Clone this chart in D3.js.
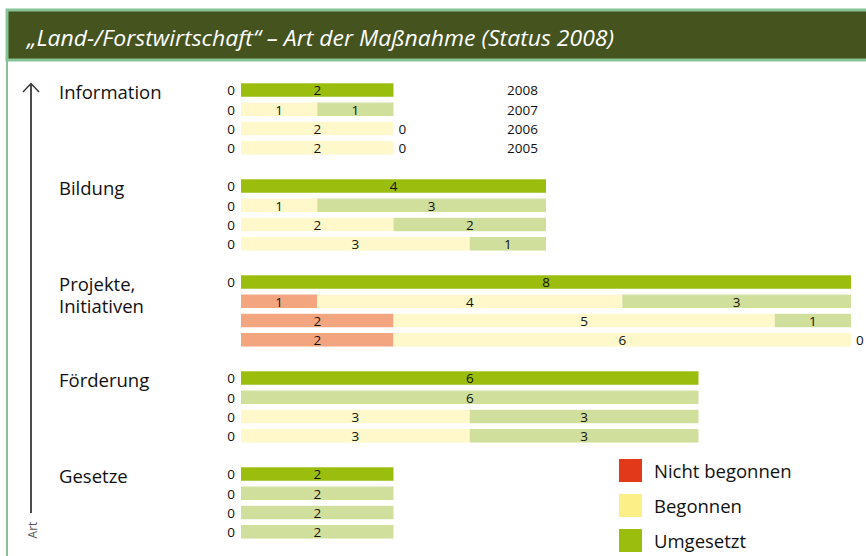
<!DOCTYPE html>
<html>
<head>
<meta charset="utf-8">
<script src="https://cdn.jsdelivr.net/npm/d3@7/dist/d3.min.js"></script>
<style>
  html, body { margin: 0; padding: 0; background: #ffffff; }
  svg { display: block; }
</style>
</head>
<body>
<svg id="chart" width="866" height="556"></svg>
<script>
// Measures by type, one row per year in each group
const categories = ["Information", "Bildung", "Projekte, Initiativen", "Förderung", "Gesetze"];
const years = ["2008", "2007", "2006", "2005"];
const statuses = ["Nicht begonnen", "Begonnen", "Umgesetzt"];

// values per category, in year order 2008, 2007, 2006, 2005
const nichtBegonnen = [[0, 0, 0, 0], [0, 0, 0, 0], [0, 1, 2, 2], [0, 0, 0, 0], [0, 0, 0, 0]];
const begonnen      = [[0, 1, 2, 2], [0, 1, 2, 3], [0, 4, 5, 6], [0, 0, 3, 3], [0, 0, 0, 0]];
const umgesetzt     = [[2, 1, 0, 0], [4, 3, 2, 1], [8, 3, 1, 0], [6, 6, 3, 3], [2, 2, 2, 2]];

const titleText = "\u201ELand-/Forstwirtschaft\u201C \u2013 Art der Ma\u00DFnahme (Status 2008)";
const axisLabel = "Art";

// Full colours for the current year, pale tints for earlier years
const fullColors = ["#e3391b", "#fdef88", "#9abd0e"];
const paleColors = ["#f3a580", "#fef8cb", "#d1df9d"];

const svg = d3.select("#chart");
const FONT = "'Open Sans', 'Noto Sans', sans-serif";
const INK = "#111";

// frame and title bar
svg.append("line")
  .attr("x1", 7).attr("x2", 7).attr("y1", 58).attr("y2", 560)
  .attr("stroke", "#86c495").attr("stroke-width", 2);
svg.append("rect")
  .attr("x", 7).attr("y", 10).attr("width", 900).attr("height", 50)
  .attr("fill", "#45531f").attr("stroke", "#86c495").attr("stroke-width", 3);
svg.append("text")
  .attr("x", 27).attr("y", 46)
  .attr("fill", "#ffffff")
  .attr("font-family", "'Liberation Sans Narrow', 'Open Sans', sans-serif")
  .attr("font-style", "italic")
  .attr("font-size", 22)
  .attr("textLength", 587).attr("lengthAdjust", "spacingAndGlyphs")
  .text(titleText);

// rows flattened from the arrays
const rows = [];
categories.forEach((cat, ci) => {
  years.forEach((yr, yi) => {
    rows.push({
      cat, yr, ci, yi,
      values: [nichtBegonnen[ci][yi], begonnen[ci][yi], umgesetzt[ci][yi]]
    });
  });
});

// scales
const x = d3.scaleLinear().domain([0, 8]).range([241, 851]);
const groupStep = 96;
const yGroup = d3.scaleBand().domain(categories)
  .range([80.4, 80.4 + groupStep * categories.length]).paddingInner(0).paddingOuter(0);
const yYear = d3.scaleBand().domain(years)
  .range([0, 19.25 * years.length]).paddingInner(0.3).paddingOuter(0.15);
const rowY = d => yGroup(d.cat) + yYear(d.yr);
const bh = yYear.bandwidth();

// stacked segments
const segs = [];
rows.forEach(r => {
  let acc = 0;
  r.values.forEach((v, si) => {
    segs.push({ row: r, si, v, x0: acc, x1: acc + v });
    acc += v;
  });
  r.total = acc;
});

svg.append("g").selectAll("rect")
  .data(segs.filter(s => s.v > 0))
  .join("rect")
  .attr("x", s => x(s.x0))
  .attr("y", s => rowY(s.row))
  .attr("width", s => x(s.x1) - x(s.x0))
  .attr("height", bh)
  .attr("fill", s => (s.row.yi === 0 ? fullColors : paleColors)[s.si]);

// value labels inside segments
svg.append("g").selectAll("text")
  .data(segs.filter(s => s.v > 0))
  .join("text")
  .attr("x", s => (x(s.x0) + x(s.x1)) / 2)
  .attr("y", s => rowY(s.row) + bh - 1.3)
  .attr("text-anchor", "middle")
  .attr("font-family", FONT).attr("font-size", 13.5)
  .attr("fill", INK)
  .text(s => s.v);

// zero markers: left for "Nicht begonnen", right for "Umgesetzt"
svg.append("g").selectAll("text")
  .data(rows.filter(r => r.values[0] === 0))
  .join("text")
  .attr("x", x(0) - 6)
  .attr("y", r => rowY(r) + bh - 1.3)
  .attr("text-anchor", "end")
  .attr("font-family", FONT).attr("font-size", 13.5)
  .attr("fill", INK)
  .text(0);
svg.append("g").selectAll("text")
  .data(rows.filter(r => r.values[2] === 0))
  .join("text")
  .attr("x", r => x(r.total) + 5)
  .attr("y", r => rowY(r) + bh - 1.3)
  .attr("text-anchor", "start")
  .attr("font-family", FONT).attr("font-size", 13.5)
  .attr("fill", INK)
  .text(0);

// year labels beside the first group
svg.append("g").selectAll("text")
  .data(rows.filter(r => r.ci === 0))
  .join("text")
  .attr("x", 507)
  .attr("y", r => rowY(r) + bh - 1.3)
  .attr("font-family", FONT).attr("font-size", 13.5)
  .attr("fill", INK)
  .text(r => r.yr);

// category labels, one text element per line
const catLines = [];
categories.forEach(c => {
  const parts = c.includes(", ")
    ? c.split(", ").map((p, i, a) => (i < a.length - 1 ? p + "," : p))
    : [c];
  parts.forEach((p, i) => catLines.push({ c, p, i }));
});
svg.append("g").selectAll("text")
  .data(catLines)
  .join("text")
  .attr("x", 59)
  .attr("y", d => yGroup(d.c) + yYear(years[0]) + 16 + d.i * 22)
  .attr("font-family", FONT).attr("font-size", 18.5)
  .attr("fill", INK)
  .text(d => d.p);

// vertical axis arrow
svg.append("line")
  .attr("x1", 31).attr("x2", 31).attr("y1", 84).attr("y2", 513)
  .attr("stroke", "#4d4d4d").attr("stroke-width", 2);
svg.append("path")
  .attr("d", "M23,92 L31,83.5 L39,92")
  .attr("fill", "none").attr("stroke", "#333").attr("stroke-width", 1.4);
svg.append("text")
  .attr("transform", "translate(36.5,530) rotate(-90)")
  .attr("text-anchor", "middle")
  .attr("font-family", FONT).attr("font-size", 12)
  .attr("fill", "#555")
  .text(axisLabel);

// legend
const legend = svg.append("g").selectAll("g")
  .data(statuses)
  .join("g")
  .attr("transform", (s, i) => `translate(619,${459 + i * 35})`);
legend.append("rect")
  .attr("width", 23).attr("height", 23)
  .attr("fill", (s, i) => fullColors[i]);
legend.append("text")
  .attr("x", 35).attr("y", 19)
  .attr("font-family", FONT).attr("font-size", 18.5)
  .attr("fill", INK)
  .text(s => s);
</script>
</body>
</html>
